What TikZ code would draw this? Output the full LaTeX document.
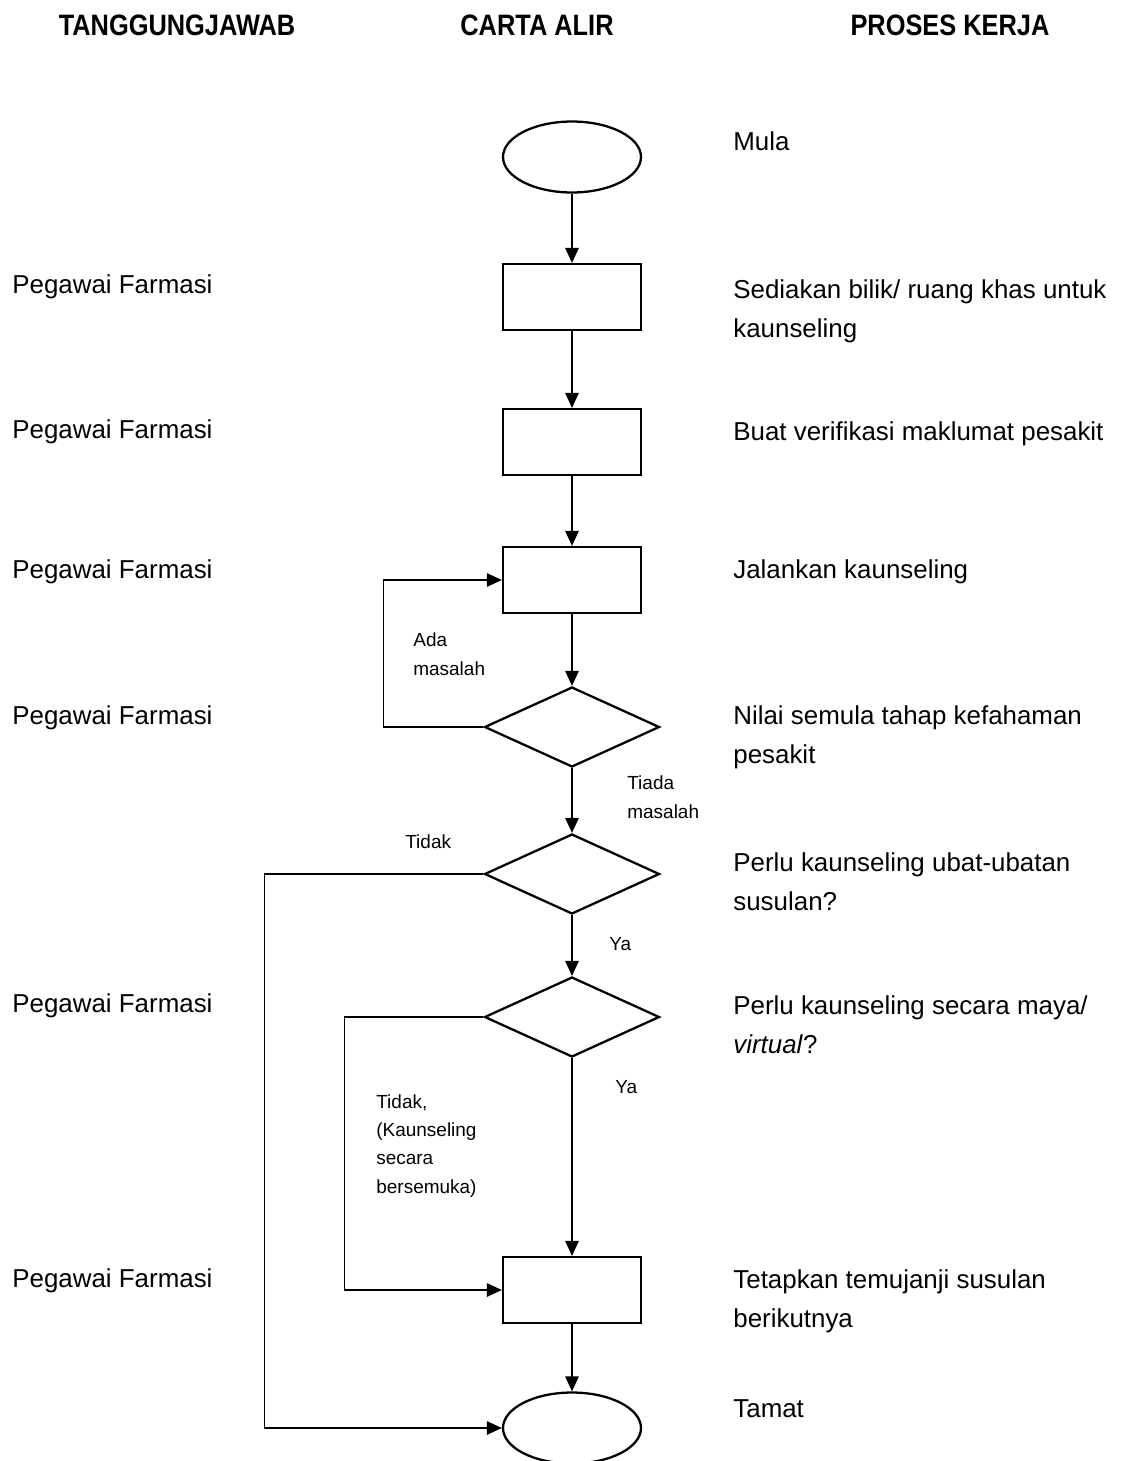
\documentclass[tikz,border=0pt]{standalone}
\usepackage{fontspec}
\setmainfont{Liberation Sans}
\newfontfamily\headfont[FakeStretch=0.86]{Liberation Sans}
\usetikzlibrary{shapes.geometric,arrows.meta,positioning}

\begin{document}
\begin{tikzpicture}[
    x=0.02cm, y=-0.02cm,
    term/.style={ellipse, draw, line width=1.3pt, minimum width=2.76cm, minimum height=1.42cm, inner sep=0pt},
    proc/.style={rectangle, draw, line width=1.3pt, minimum width=2.76cm, minimum height=1.32cm, inner sep=0pt},
    dec/.style={diamond, draw, line width=1.3pt, minimum width=3.5cm, minimum height=1.6cm, inner sep=0pt},
    flow/.style={-{Triangle[length=0.3cm, width=0.27cm]}, line width=0.7pt},
    head/.style={font=\headfont\bfseries\fontsize{16.8pt}{20pt}\selectfont, anchor=base, inner sep=0pt},
    txt/.style={font=\fontsize{14.75pt}{22.2pt}\selectfont, anchor=base west, align=left, inner sep=0pt},
    lbl/.style={font=\fontsize{10.8pt}{16pt}\selectfont, anchor=base west, align=left, inner sep=0pt}
]
    \useasboundingbox (0,0) rectangle (1121,1461);

    % Column headings
    \node[head] (h1) at (177,35) {TANGGUNGJAWAB};
    \node[head] (h2) at (537,35) {CARTA ALIR};
    \node[head] (h3) at (950,35) {PROSES KERJA};

    % Flowchart shapes
    \node[term] (mula) at (572,157) {};
    \node[proc] (p1) at (572,297) {};
    \node[proc] (p2) at (572,442) {};
    \node[proc] (p3) at (572,580) {};
    \node[dec] (d1) at (572,727) {};
    \node[dec] (d2) at (572,874) {};
    \node[dec] (d3) at (572,1017) {};
    \node[proc] (p4) at (572,1290) {};
    \node[term] (tamat) at (572,1428) {};

    % Main flow
    \draw[flow] (mula) -- (p1);
    \draw[flow] (p1) -- (p2);
    \draw[flow] (p2) -- (p3);
    \draw[flow] (p3) -- (d1);
    \draw[flow] (d1) -- (d2);
    \draw[flow] (d2) -- (d3);
    \draw[flow] (d3) -- (p4);
    \draw[flow] (p4) -- (tamat);

    % Side branches
    \draw[flow] (d1.west) -- ++(-100,0) |- (p3.west);
    \draw[flow] (d2.west) -- ++(-219,0) |- (tamat.west);
    \draw[flow] (d3.west) -- ++(-139,0) |- (p4.west);

    % Branch labels (anchored at the last line)
    \node[lbl] (l1) at (413,675) {Ada\\masalah};
    \node[lbl] (l2) at (627,818) {Tiada\\masalah};
    \node[lbl] (l3) at (405,848) {Tidak};
    \node[lbl] (l4) at (609,950) {Ya};
    \node[lbl] (l5) at (615,1093) {Ya};
    \node[lbl] (l6) at (376,1193) {Tidak,\\(Kaunseling\\secara\\bersemuka)};

    % Responsibility column
    \node[txt] (r1) at (12,293) {Pegawai Farmasi};
    \node[txt] (r2) at (12,438) {Pegawai Farmasi};
    \node[txt] (r3) at (12,578) {Pegawai Farmasi};
    \node[txt] (r4) at (12,724) {Pegawai Farmasi};
    \node[txt] (r5) at (12,1012) {Pegawai Farmasi};
    \node[txt] (r6) at (12,1287) {Pegawai Farmasi};

    % Work process column
    \node[txt] (w1) at (733,150) {Mula};
    \node[txt] (w2) at (733,337) {Sediakan bilik/ ruang khas untuk\\kaunseling};
    \node[txt] (w3) at (733,440) {Buat verifikasi maklumat pesakit};
    \node[txt] (w4) at (733,578) {Jalankan kaunseling};
    \node[txt] (w5) at (733,763) {Nilai semula tahap kefahaman\\pesakit};
    \node[txt] (w6) at (733,910) {Perlu kaunseling ubat-ubatan\\susulan?};
    \node[txt] (w7) at (733,1053) {Perlu kaunseling secara maya/\\\textit{virtual}?};
    \node[txt] (w8) at (733,1327) {Tetapkan temujanji susulan\\berikutnya};
    \node[txt] (w9) at (733,1417) {Tamat};
\end{tikzpicture}
\end{document}
